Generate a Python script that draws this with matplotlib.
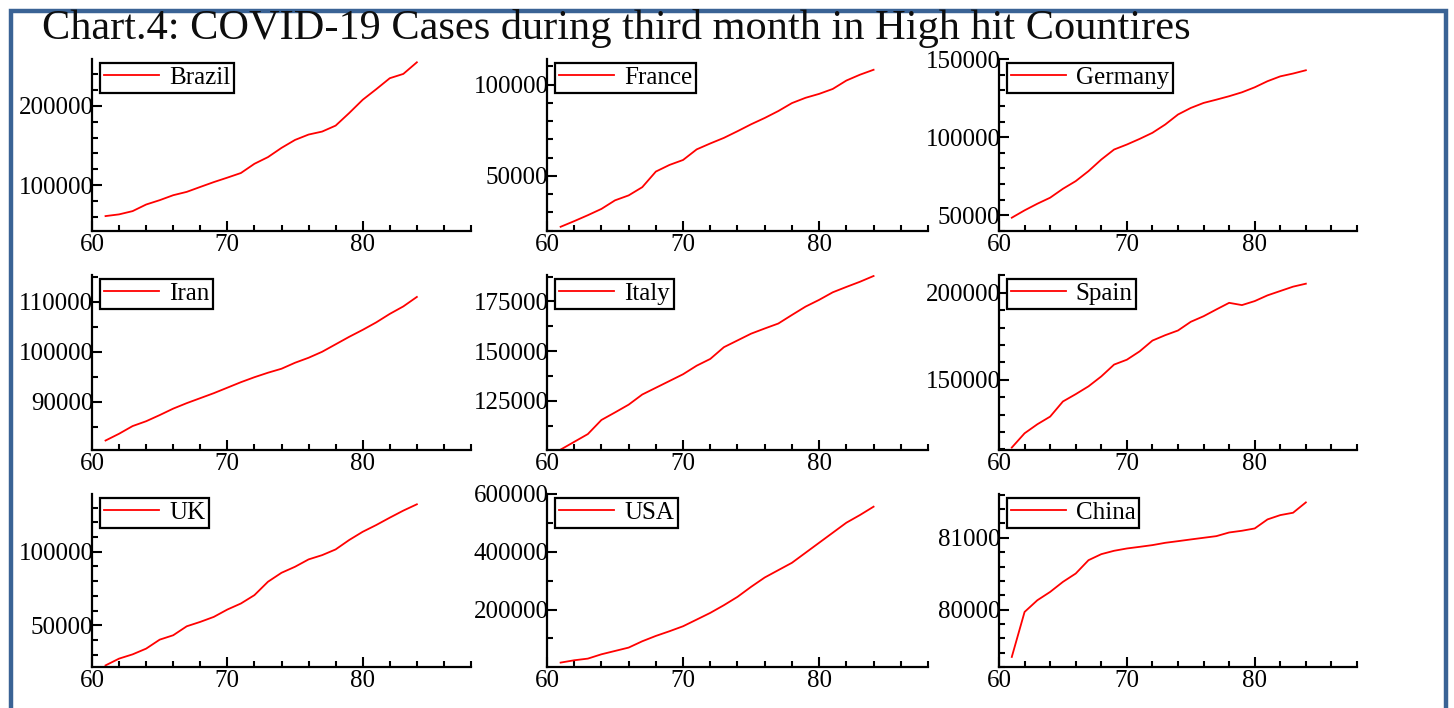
import matplotlib.pyplot as plt
from matplotlib.patches import Rectangle
from matplotlib.ticker import MultipleLocator

plt.rcParams['font.family'] = ['Liberation Serif', 'DejaVu Serif']

# day of the outbreak (third month)
days = list(range(61, 85))

brazil = [61250, 63400, 67500, 75800, 81250, 87500, 91700, 97900, 104000, 109600,
          115400, 127000, 135400, 147000, 157000, 163750, 167500, 175000, 190800,
          207500, 220800, 234600, 240000, 254600]
france = [22100, 25200, 28450, 31900, 36600, 39300, 43800, 52350, 55980, 58700,
          64500, 67750, 70800, 74450, 78250, 81700, 85500, 89850, 92750, 94900,
          97600, 102200, 105400, 108100]
germany = [48500, 53200, 57450, 61300, 67000, 71900, 78300, 85700, 92100, 95300,
           98900, 102800, 108100, 114500, 118700, 121900, 124000, 126200, 128700,
           131900, 135800, 138900, 140700, 142800]
iran = [82200, 83560, 85100, 86070, 87300, 88600, 89700, 90700, 91700, 92800,
        93900, 94900, 95800, 96600, 97800, 98800, 100000, 101500, 103000, 104400,
        105900, 107600, 109100, 111000]
italy = [100500, 104400, 108300, 115400, 119200, 123100, 128200, 131600, 135000,
         138400, 142700, 146100, 152000, 155400, 158800, 161400, 163900, 168200,
         172400, 175800, 179600, 182300, 184900, 187800]
spain = [111000, 119200, 124400, 128800, 137500, 141700, 146200, 151900, 158700,
         161500, 166300, 172500, 175600, 178300, 183300, 186500, 190400, 194200,
         192900, 195200, 198500, 201000, 203500, 205200]
uk = [22700, 27300, 30200, 34100, 40200, 43200, 49300, 52300, 55700, 60700, 64800,
      70500, 79600, 85700, 89800, 94800, 97700, 101600, 108000, 113600, 118200,
      123200, 128000, 132300]
usa = [16200, 24300, 30000, 45000, 56600, 68200, 90100, 108600, 124800, 142100,
       165200, 188400, 215000, 243900, 278600, 310900, 336400, 361800, 396500,
       431200, 465900, 500600, 527200, 556100]
china = [79340, 79967, 80130, 80246, 80386, 80502, 80688, 80772, 80819, 80851,
         80874, 80898, 80930, 80953, 80977, 81000, 81023, 81074, 81098, 81130,
         81256, 81316, 81349, 81493]

countries = ['Brazil', 'France', 'Germany', 'Iran', 'Italy', 'Spain', 'UK', 'USA', 'China']
series = [brazil, france, germany, iran, italy, spain, uk, usa, china]

# y range, major step, minor step for each panel
y_axes = {
    'Brazil': ((42500, 258750), 100000, 20000),
    'France': ((19800, 114000), 50000, 10000),
    'Germany': ((40000, 150000), 50000, 10000),
    'Iran': ((80300, 115400), 10000, 5000),
    'Italy': ((100300, 188300), 25000, 12500),
    'Spain': ((109600, 210200), 50000, 10000),
    'UK': ((21600, 139300), 50000, 10000),
    'USA': ((1000, 600000), 200000, 100000),
    'China': ((79200, 81610), 1000, 200),
}

W, H = 1454, 708
col_px = [(92, 471), (547, 928), (999, 1357)]
row_px = [(59, 231), (275, 450), (494, 667)]

fig = plt.figure(figsize=(W / 100, H / 100), dpi=100)

# blue frame around the whole chart
fig.patches.append(Rectangle((11 / W, -0.05), (1446 - 11) / W, (H - 11) / H + 0.05,
                             transform=fig.transFigure, fill=False,
                             edgecolor='#3A6395', linewidth=3.2))

fig.text(42 / W, 1 - 29 / H, 'Chart.4: COVID-19 Cases during third month in High hit Countires',
         fontsize=30.5, va='center', ha='left', color='#0d0d0d')

for i, (name, vals) in enumerate(zip(countries, series)):
    r, c = divmod(i, 3)
    x0, x1 = col_px[c]
    top, bot = row_px[r]
    ax = fig.add_axes([x0 / W, 1 - bot / H, (x1 - x0) / W, (bot - top) / H])
    ax.plot(days, vals, color='red', lw=1.3, label=name)

    (ylo, yhi), major, minor = y_axes[name]
    ax.set_xlim(60, 88)
    ax.set_ylim(ylo, yhi)
    ax.xaxis.set_major_locator(MultipleLocator(10))
    ax.xaxis.set_minor_locator(MultipleLocator(2))
    ax.yaxis.set_major_locator(MultipleLocator(major))
    ax.yaxis.set_minor_locator(MultipleLocator(minor))

    for s in ['top', 'right']:
        ax.spines[s].set_visible(False)
    for s in ['left', 'bottom']:
        ax.spines[s].set_linewidth(1.6)
    ax.tick_params(which='both', direction='in', width=1.5, labelsize=18)
    ax.tick_params(which='major', length=7.5)
    ax.tick_params(which='minor', length=4)
    ax.tick_params(axis='y', pad=-1)
    ax.tick_params(axis='x', pad=2)
    ax.patch.set_alpha(0)

    leg = ax.legend(loc='upper left', fontsize=18, frameon=True, fancybox=False,
                    edgecolor='black', framealpha=1, borderaxespad=0.15,
                    borderpad=0.15, handlelength=2.2, handletextpad=0.4)
    leg.get_frame().set_linewidth(1.6)
    leg.set_bbox_to_anchor((0.012, 1.0), transform=ax.transAxes)

fig.savefig('out.png', dpi=100)
